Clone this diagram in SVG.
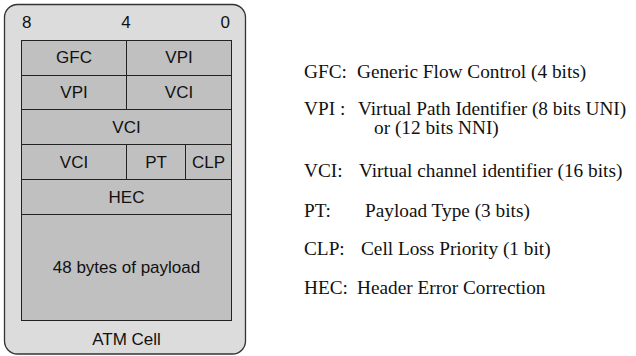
<svg xmlns="http://www.w3.org/2000/svg" width="636" height="356" viewBox="0 0 636 356">
<style>
.outer{fill:#dcdcdc;stroke:#333;stroke-width:1.3}
.cell{fill:#c0c0c0;stroke:#222;stroke-width:1}
.s{font-family:"Liberation Sans",Arial,sans-serif;font-size:17px;fill:#111;text-anchor:middle}
.r{font-family:"Liberation Serif","Times New Roman",serif;font-size:19.3px;fill:#111}
</style>
<rect width="636" height="356" fill="#fff"/>
<g id="atm-cell">
<rect class="outer" x="4.5" y="4.5" width="241" height="349.5" rx="13"/>
<text class="s" x="22" y="28" style="text-anchor:start">8</text>
<text class="s" x="126" y="28">4</text>
<text class="s" x="230" y="28" style="text-anchor:end">0</text>
<text class="s" x="126.5" y="345">ATM Cell</text>
</g>
<g id="gfc"><rect class="cell" x="21.5" y="40.5" width="105" height="35"/><text class="s" x="74" y="63">GFC</text></g>
<g id="vpi1"><rect class="cell" x="126.5" y="40.5" width="105" height="35"/><text class="s" x="179" y="63">VPI</text></g>
<g id="vpi2"><rect class="cell" x="21.5" y="75.5" width="105" height="34"/><text class="s" x="74" y="98">VPI</text></g>
<g id="vci1"><rect class="cell" x="126.5" y="75.5" width="105" height="34"/><text class="s" x="179" y="98">VCI</text></g>
<g id="vci2"><rect class="cell" x="21.5" y="109.5" width="210" height="35"/><text class="s" x="126.5" y="133">VCI</text></g>
<g id="vci3"><rect class="cell" x="21.5" y="144.5" width="105" height="35"/><text class="s" x="74" y="168">VCI</text></g>
<g id="pt"><rect class="cell" x="126.5" y="144.5" width="59" height="35"/><text class="s" x="156" y="168">PT</text></g>
<g id="clp"><rect class="cell" x="185.5" y="144.5" width="46" height="35"/><text class="s" x="208.5" y="168">CLP</text></g>
<g id="hec"><rect class="cell" x="21.5" y="179.5" width="210" height="35"/><text class="s" x="126.5" y="203">HEC</text></g>
<g id="payload"><rect class="cell" x="21.5" y="214.5" width="210" height="106"/><text class="s" x="126.5" y="273">48 bytes of payload</text></g>
<g id="legend">
<text class="r" x="304" y="78">GFC:<tspan x="357">Generic Flow Control (4 bits)</tspan></text>
<text class="r" x="304" y="115">VPI :<tspan x="358">Virtual Path Identifier (8 bits UNI)</tspan></text>
<text class="r" x="374" y="134">or (12 bits NNI)</text>
<text class="r" x="304" y="177">VCI:<tspan x="359">Virtual channel identifier (16 bits)</tspan></text>
<text class="r" x="304" y="217">PT:<tspan x="365">Payload Type (3 bits)</tspan></text>
<text class="r" x="304" y="255">CLP:<tspan x="361">Cell Loss Priority (1 bit)</tspan></text>
<text class="r" x="304" y="294">HEC:<tspan x="357">Header Error Correction</tspan></text>
</g>
<g id="connectors"/>
</svg>
